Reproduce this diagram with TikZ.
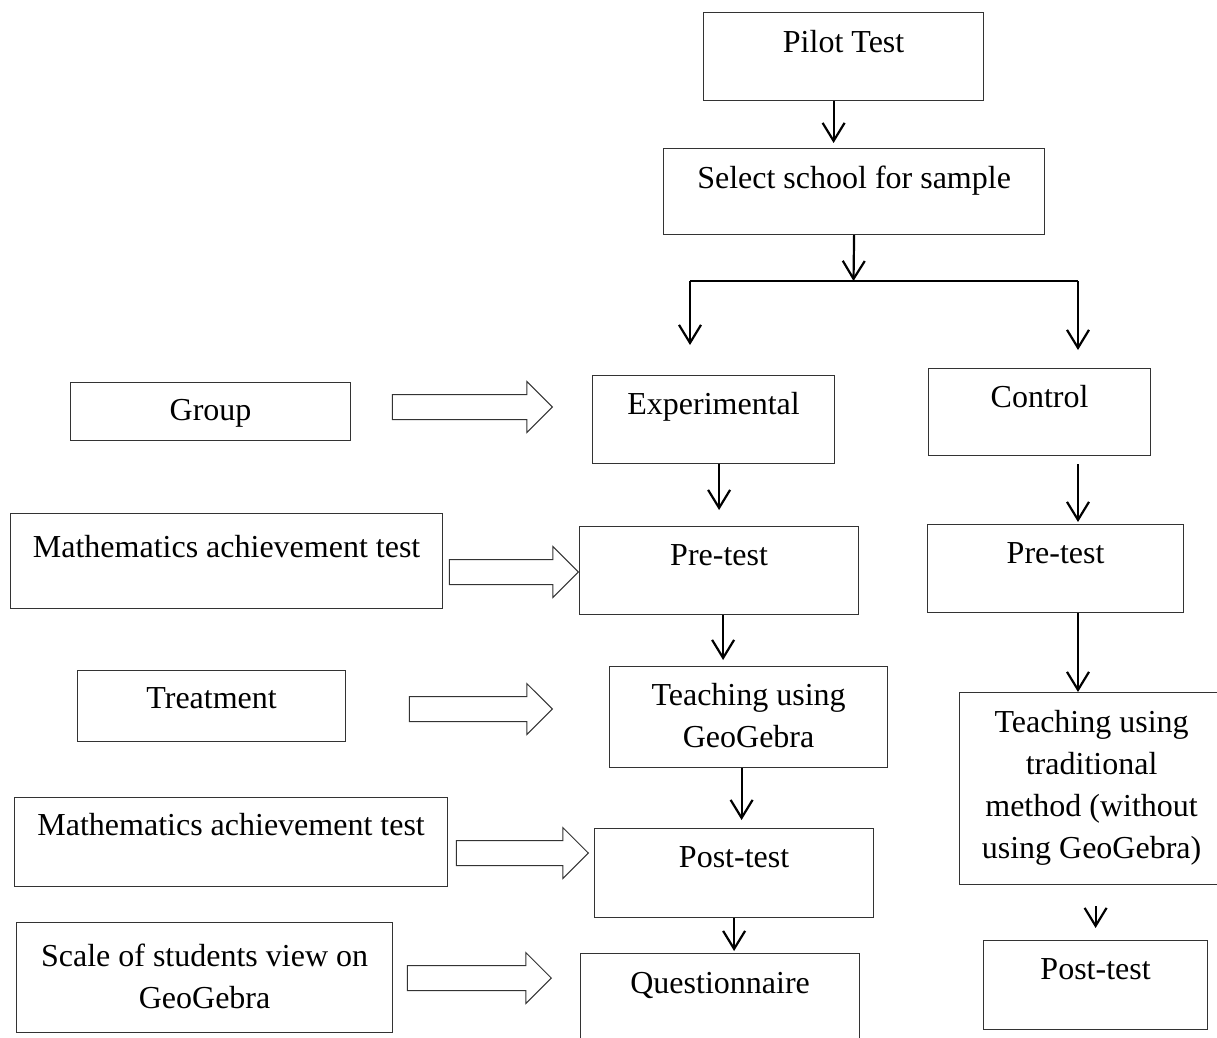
\documentclass[tikz,border=0pt]{standalone}
\usepackage{fontspec}
\setmainfont{Liberation Serif}
\usetikzlibrary{arrows.meta,shapes.arrows,positioning}

\tikzset{
	stage/.style={draw=black!80, line width=0.6pt, anchor=north west, inner sep=0pt},
	txt/.style={anchor=north, inner sep=0pt, align=center, yshift=#1},
	txt/.default=-9.25pt,
	flow/.style={line width=1.1pt, -{Straight Barb[length=9pt,width=11pt,line width=1.1pt]}},
	hollow/.style={single arrow, draw=black!80, line width=0.5pt, anchor=tip, inner sep=6pt,
		single arrow head extend=6.5pt, single arrow tip angle=90, minimum height=#1}
}

\begin{document}
\begin{tikzpicture}[x=0.5pt, y=-0.5pt, font=\fontsize{16}{21}\selectfont]
		\useasboundingbox (0,0) rectangle (1217,1038);
		% middle column
		\node (pilot) at (703,12)[stage, minimum width=140pt, minimum height=44pt, label={[txt=-9pt]north:Pilot Test}] {};
		\node (select) at (663,148)[stage, minimum width=190.5pt, minimum height=43pt, label={[txt=-9pt]north:Select school for sample}] {};
		\node (exp) at (592,375)[stage, minimum width=121pt, minimum height=44pt, label={[txt=-8.5pt]north:Experimental}] {};
		\node (pre) at (579,526)[stage, minimum width=139.5pt, minimum height=44pt, label={[txt]north:Pre-test}] {};
		\node (teach) at (609,666)[stage, minimum width=139pt, minimum height=50.5pt, label={[txt=-8.5pt]north:{Teaching using\\GeoGebra}}] {};
		\node (post) at (594,828)[stage, minimum width=139.5pt, minimum height=44.5pt, label={[txt]north:Post-test}] {};
		\node (quest) at (580,953)[stage, minimum width=139.5pt, minimum height=60pt, label={[txt]north:Questionnaire}] {};
		% control column
		\node (control) at (928,368)[stage, minimum width=111pt, minimum height=43.5pt, label={[txt=-8.5pt]north:Control}] {};
		\node (prec) at (927,524)[stage, minimum width=128pt, minimum height=44pt, label={[txt]north:Pre-test}] {};
		\node (trad) at (959,692)[stage, minimum width=140pt, minimum height=96pt, label={[txt=-9pt, xshift=-4pt]north:{Teaching using\\traditional\\method (without\\using GeoGebra)}}] {};
		\node (postc) at (983,940)[stage, minimum width=112pt, minimum height=44.5pt, label={[txt]north:Post-test}] {};
		% left column
		\node (group) at (70,382)[stage, minimum width=140pt, minimum height=29pt, label={[txt=-8.5pt]north:Group}] {};
		\node (math1) at (10,513)[stage, minimum width=216pt, minimum height=47.5pt, label={[txt=-11pt]north:Mathematics achievement test}] {};
		\node (treat) at (77,670)[stage, minimum width=134pt, minimum height=35.5pt, label={[txt=-8.5pt]north:Treatment}] {};
		\node (math2) at (14,797)[stage, minimum width=216.5pt, minimum height=44.5pt, label={[txt=-7.75pt]north:Mathematics achievement test}] {};
		\node (scale) at (16,922)[stage, minimum width=188pt, minimum height=55pt, label={[txt=-10.75pt]north:{Scale of students view on\\GeoGebra}}] {};
		% block arrows
		\node (h1) at (553,407)[hollow=80pt] {};
		\node (h2) at (579,572)[hollow=64.5pt] {};
		\node (h3) at (553,709)[hollow=71.5pt] {};
		\node (h4) at (589,853)[hollow=66pt] {};
		\node (h5) at (552,978)[hollow=72pt] {};
		% branch
		\coordinate (split) at (853.5,281);
		\coordinate (brL) at (690,281);
		\coordinate (brR) at (1078,281);
		\draw[line width=1.1pt] (brL) -- (brR);
		\draw[flow, shorten >=2.5pt] ([xshift=-5pt]pilot.south) -- ([xshift=-5pt]pilot.south |- select.north);
		\draw[flow] (select.south) -- (split);
		\draw[flow, shorten >=15pt] (brL) -- (brL |- exp.north);
		\draw[flow, shorten >=9pt] (brR) -- (brR |- control.north);
		\draw[flow, shorten >=8pt] (pre.north |- exp.south) -- (pre.north);
		\draw[flow, shorten <=4pt, shorten >=1pt] (brR |- control.south) -- (brR |- prec.north);
		\draw[flow, shorten >=3pt] ([xshift=2pt]pre.south) -- ([xshift=2pt]pre.south |- teach.north);
		\draw[flow] (brR |- prec.south) -- (brR |- trad.north);
		\draw[flow, shorten >=4pt] ([xshift=-3.5pt]teach.south) -- ([xshift=-3.5pt]teach.south |- post.north);
		\draw[flow, shorten >=1pt] (post.south) -- (post.south |- quest.north);
		\draw[flow, shorten <=10.5pt, shorten >=6pt] (postc.north |- trad.south) -- (postc.north);
		\end{tikzpicture}
\end{document}
